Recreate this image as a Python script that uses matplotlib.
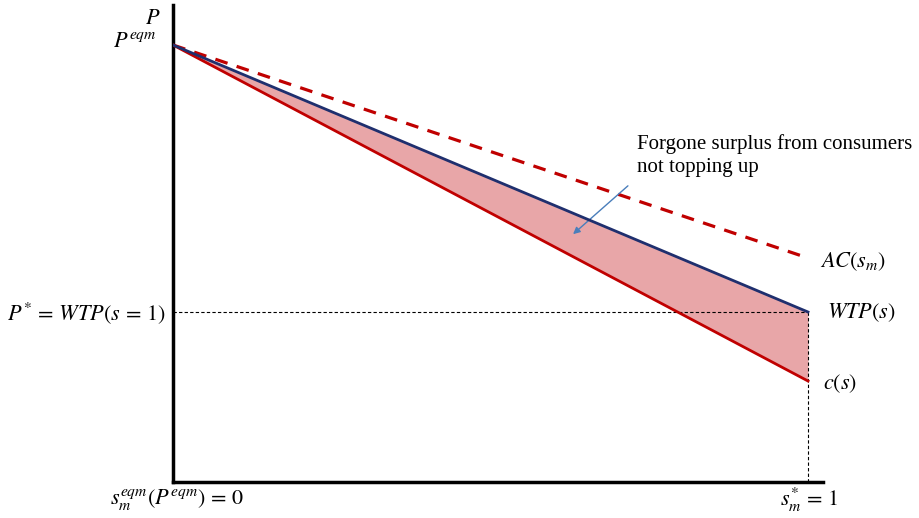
import matplotlib
matplotlib.use("Agg")
import matplotlib.pyplot as plt

plt.rcParams['mathtext.fontset'] = 'stix'
plt.rcParams['font.family'] = ['Liberation Serif', 'DejaVu Serif']

# Data
s = [0, 1]
wtp = [4.37, 1.70]    # WTP(s)
cost = [4.37, 1.01]   # c(s)
ac = [4.37, 2.24]     # AC(s_m)
p_eqm = wtp[0]
p_star = wtp[1]

fig = plt.figure(figsize=(9.2, 5.18), dpi=100)
ax = fig.add_axes([173/920, 36/518, 650/920, 477/518])
ax.set_xlim(0, 650/635)
ax.set_ylim(0, 4.77)
for side in ['top', 'right']:
    ax.spines[side].set_visible(False)
for side in ['left', 'bottom']:
    ax.spines[side].set_linewidth(2.5)
    ax.spines[side].set_color('black')
ax.set_xticks([])
ax.set_yticks([])

def px(x):
    return (x - 173) / 635

def py(y):
    return (482 - y) / 100

ax.fill_between(s, cost, wtp, color='#e8a6a8', zorder=1, linewidth=0)
ax.plot(s, ac, color='#c00000', lw=2.3, dashes=(4, 3), zorder=3)
ax.plot(s, cost, color='#c00000', lw=2, zorder=3)
ax.plot(s, wtp, color='#1f2f6e', lw=2, zorder=4)

ax.plot([0, s[1]], [p_star, p_star], color='black', lw=0.8, dashes=(3, 2), zorder=2)
ax.plot([s[1], s[1]], [0, p_star], color='black', lw=0.8, dashes=(3, 2), zorder=2)

fs = 16
ax.text(px(160), py(20), r'$P$', ha='right', va='center', fontsize=fs, clip_on=False)
ax.text(px(157), py(43), r'$P^{eqm}$', ha='right', va='center', fontsize=fs, clip_on=False)
ax.text(px(166), py(313), r'$P^{*}\,=\,WTP(s\,=\,1)$', ha='right', va='center', fontsize=fs, clip_on=False)
ax.text(px(177), py(500), r'$s_m^{eqm}(P^{eqm})\,=\,0$', ha='center', va='center', fontsize=fs, clip_on=False)
ax.text(px(809), py(500), r'$s_m^{*}\,=\,1$', ha='center', va='center', fontsize=fs, clip_on=False)
ax.text(px(820), py(262), r'$AC(s_m)$', ha='left', va='center', fontsize=fs, clip_on=False)
ax.text(px(827), py(313), r'$WTP(s)$', ha='left', va='center', fontsize=fs, clip_on=False)
ax.text(px(823), py(384), r'$c(s)$', ha='left', va='center', fontsize=fs, clip_on=False)

ax.text(px(637), py(134), 'Forgone surplus from consumers\nnot topping up', ha='left', va='top',
        fontsize=15, linespacing=1.3, clip_on=False)
ax.annotate('', xy=(px(571), py(236)), xytext=(px(630), py(184)),
            arrowprops=dict(arrowstyle='-|>', color='#4a7ebb', lw=1, mutation_scale=10),
            annotation_clip=False)

fig.savefig('out.png', dpi=100)
